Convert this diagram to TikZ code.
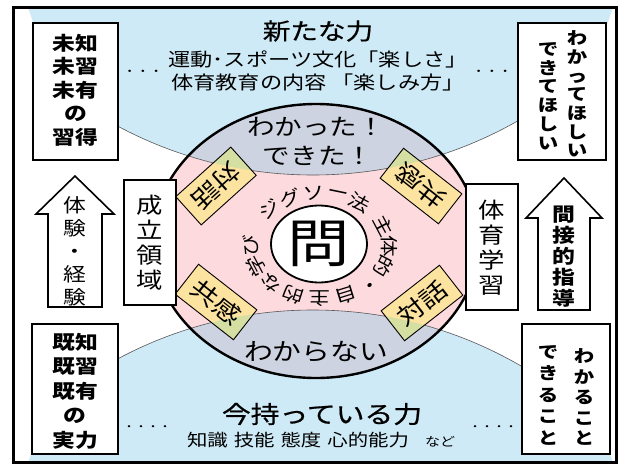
\documentclass[tikz,border=0pt]{standalone}
\usepackage{fontspec}
\setmainfont[FakeStretch=1.2]{Noto Sans CJK JP}
\newfontfamily\medfont[FakeStretch=1.2,FakeBold=0.7]{Noto Sans CJK JP}
\usetikzlibrary{shapes.geometric}
\definecolor{skyb}{RGB}{206,234,246}
\definecolor{grayb}{RGB}{205,211,224}
\definecolor{pinkb}{RGB}{252,218,222}
\definecolor{yelb}{RGB}{253,227,160}
\definecolor{grnb}{RGB}{213,223,162}
\pgfdeclarelayer{back}
\pgfdeclarelayer{mid}
\pgfsetlayers{back,mid,main}
\tikzset{
  bold/.style 2 args={font=\fontsize{#1}{#2}\selectfont\bfseries},
  reg/.style 2 args={font=\fontsize{#1}{#2}\selectfont},
  med/.style 2 args={font=\medfont\fontsize{#1}{#2}\selectfont},
  frm/.style={draw=black, line width=2pt, fill=white, inner sep=0pt},
  tagtext/.style={inner sep=0pt, font=\fontsize{23.5}{23.5}\selectfont},
  ring/.style={font=\fontsize{18}{18}\selectfont, inner sep=0pt},
  thinarc/.style={draw=black!65, line width=0.6pt},
  arr/.style={draw=black, line width=1.6pt, fill=white, line join=miter},
  col/.style={align=center, inner sep=0pt},
}
% #1 centre x, #2 centre y, #3 angle of long side, #4 y of the gray circle centre
\newcommand\tagshape[4]{%
  \begin{pgfonlayer}{mid}
    \fill[yelb, rotate around={#3:(#1,#2)}] (#1-37,#2-19) rectangle (#1+37,#2+19);
    \begin{scope}
      \clip[rotate around={#3:(#1,#2)}] (#1-37,#2-19) rectangle (#1+37,#2+19);
      \fill[grnb] (313,#4) circle[radius=414];
    \end{scope}
    \draw[line width=0.9pt, rotate around={#3:(#1,#2)}] (#1-37,#2-19) rectangle (#1+37,#2+19);
  \end{pgfonlayer}}
\begin{document}
\begin{tikzpicture}[x=1pt,y=-1pt]
\useasboundingbox (0,0) rectangle (626,469);
\begin{pgfonlayer}{back}
  \fill[white] (0,0) rectangle (626,469);
  \begin{scope}
    \clip (13,7) rectangle (617,463);
    \begin{scope}
      \clip (28,7) -- (613,7) -- (553,187) -- (88,187) -- cycle;
      \fill[skyb] (313,-239) circle[radius=414];
      \draw[thinarc] (313,-239) circle[radius=414];
    \end{scope}
    \begin{scope}
      \clip (28,463) -- (613,463) -- (553,283) -- (88,283) -- cycle;
      \fill[skyb] (313,724) circle[radius=414];
      \draw[thinarc] (313,724) circle[radius=414];
    \end{scope}
  \end{scope}
  \fill[pinkb] (316,241) ellipse[x radius=163, y radius=137];
  \begin{scope}
    \clip (316,241) ellipse[x radius=163, y radius=137];
    \fill[grayb] (313,-239) circle[radius=414];
    \fill[grayb] (313,724) circle[radius=414];
    \draw[thinarc] (313,-239) circle[radius=414];
    \draw[thinarc] (313,724) circle[radius=414];
  \end{scope}
\end{pgfonlayer}

% ellipse outline
\draw[line width=2.4pt] (316,241) ellipse[x radius=163, y radius=137];

% tags
\tagshape{216}{186}{42}{-239}
\node[tagtext, rotate=222] (t1) at (216,186) {対話};
\tagshape{421}{186}{-38}{-239}
\node[tagtext, rotate=142] (t2) at (421,186) {共感};
\tagshape{216}{302}{-38}{724}
\node[tagtext, rotate=-38] (t3) at (216,302) {共感};
\tagshape{422}{303}{38}{724}
\node[tagtext, rotate=38] (t4) at (422,303) {対話};

% centre
\node[ellipse, draw=black, line width=1.8pt, fill=white, minimum width=96pt, minimum height=77pt, inner sep=0pt, reg={52}{52}] (q) at (319,244) {問};
\foreach \t/\c [count=\i] in {137/ジ,115/グ,95/ソ,75/ー,55/法,22/主,0/体,-22/的,-45/・,-68/自,-90/主,-113/的,-136/な,-158/学,-180/び}
  \node[ring, rotate={atan2(sin(\t)/52, cos(\t)/68)-90}] (r\i) at ({320+69*cos(\t)},{246-53*sin(\t)}) {\c};

% texts in ellipse
\node[reg={23}{23}, inner sep=0pt] (ok1) at (316,127) {わかった！};
\node[reg={23}{23}, inner sep=0pt] (ok2) at (318,156) {できた！};
\node[reg={24}{24}, inner sep=0pt] (ng) at (316,352) {わからない};

% top texts
\node[med={23}{23}, inner sep=0pt] (tnew) at (318,31) {新たな力};
\node[reg={18.5}{18.5}, inner sep=0pt] (tl1) at (318,59) {運動･スポーツ文化「楽しさ」};
\node[reg={18.5}{18.5}, inner sep=0pt] (tl2) at (318,82) {体育教育の内容 「楽しみ方」};
\node[reg={11}{11}, inner sep=0pt] (tdl) at (143,73) {・・・};
\node[reg={11}{11}, inner sep=0pt] (tdr) at (492,73) {・・・};

% bottom texts
\node[med={24}{24}, inner sep=0pt] (tnow) at (322,414) {今持っている力};
\node[reg={17}{17}, inner sep=0pt] (tknow) at (321,440) {知識\hspace{6pt}技能\hspace{6pt}態度\hspace{6pt}心的能力\hspace{16pt}{\fontsize{12.5}{12.5}\selectfont など}};
\node[reg={10}{10}, inner sep=0pt] (tdl2) at (147,428) {・・・・};
\node[reg={10}{10}, inner sep=0pt] (tdr2) at (493,428) {・・・・};

% corner boxes
\node[frm, minimum width=85pt, minimum height=137pt] (b1) at (75.5,91.5) {};
\node[col, bold={19}{23.5}] (b1t) at (75.5,90) {未知\\未習\\未有\\の\\習得};
\node[frm, minimum width=88pt, minimum height=137pt] (b2) at (562,91.5) {};
\node[col, bold={17}{18.7}] (b2r) at (577,94) {わ\\か\\っ\\て\\ほ\\し\\い};
\node[col, bold={17}{18.8}] (b2l) at (548,96) {で\\き\\て\\ほ\\し\\い};
\node[frm, minimum width=86pt, minimum height=130pt] (b5) at (75,389) {};
\node[col, bold={19}{24.5}] (b5t) at (75,391) {既知\\既習\\既有\\の\\実力};
\node[frm, minimum width=88pt, minimum height=130pt] (b6) at (566,389) {};
\node[col, bold={17}{20.5}] (b6r) at (584,397) {わ\\か\\る\\こ\\と};
\node[col, bold={17}{21.5}] (b6l) at (548,395) {で\\き\\る\\こ\\と};

% side boxes
\node[frm, minimum width=52pt, minimum height=125pt] (b3) at (150,242.5) {};
\node[col, reg={22}{25}] (b3t) at (150,243) {成\\立\\領\\域};
\node[frm, minimum width=52pt, minimum height=126pt] (b4) at (492,247) {};
\node[col, reg={22}{25}] (b4t) at (492,248) {体\\育\\学\\習};

% arrows
\draw[arr] (75,176) -- (114,214) -- (102,214) -- (102,307) -- (48,307) -- (48,214) -- (36,214) -- cycle;
\node[col, reg={19}{23}] (a1) at (75,251) {体\\験\\・\\経\\験};
\draw[arr] (564,178) -- (602,218) -- (590,218) -- (590,310) -- (538,310) -- (538,218) -- (526,218) -- cycle;
\node[col, bold={19}{21}] (a2) at (564,257) {間\\接\\的\\指\\導};

% frame
\draw[line width=3pt] (13.5,7.5) rectangle (616.5,462.5);
\end{tikzpicture}
\end{document}
